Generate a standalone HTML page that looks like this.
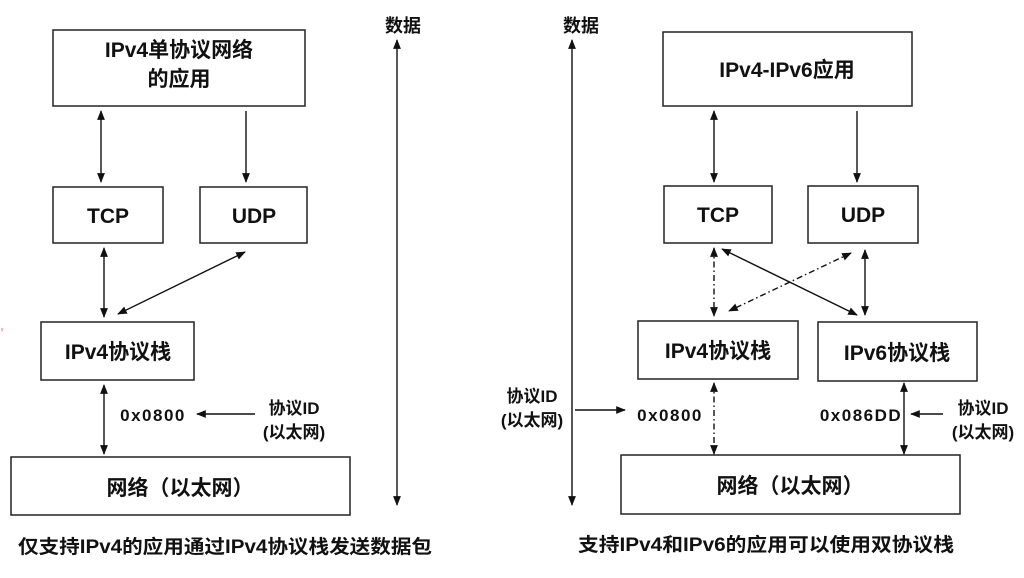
<!DOCTYPE html>
<html><head><meta charset="utf-8"><style>
html,body{margin:0;padding:0;background:#fff;}
body{width:1024px;height:573px;overflow:hidden;}
svg text{font-family:"Liberation Sans","Noto Sans CJK SC",sans-serif;fill:#111;}
</style></head><body>
<svg width="1024" height="573" viewBox="0 0 1024 573" xmlns="http://www.w3.org/2000/svg">
<defs>
<marker id="a" viewBox="0 0 10 10" refX="9" refY="5" markerWidth="7" markerHeight="7" orient="auto-start-reverse"><path d="M0,1 L10,5 L0,9 z" fill="#111"/></marker>
</defs>
<g fill="none" stroke="#222" stroke-width="1.5">
<rect x="53" y="30" width="252" height="76"/>
<rect x="53" y="187" width="110" height="56"/>
<rect x="200" y="187" width="107" height="56"/>
<rect x="41" y="322" width="153" height="58"/>
<rect x="11" y="457" width="339" height="58"/>
<rect x="663" y="32" width="249" height="74"/>
<rect x="664" y="186" width="108" height="57"/>
<rect x="808" y="186" width="110" height="57"/>
<rect x="638" y="321" width="160" height="58"/>
<rect x="818" y="322" width="159" height="59"/>
<rect x="621" y="455" width="339" height="59"/>
</g>
<g stroke="#111" stroke-width="1.4" fill="none">
<line x1="101" y1="111" x2="101" y2="182" marker-start="url(#a)" marker-end="url(#a)"/>
<line x1="246" y1="111" x2="246" y2="182" marker-end="url(#a)"/>
<line x1="104" y1="248" x2="104" y2="317" marker-start="url(#a)" marker-end="url(#a)"/>
<line x1="245" y1="252" x2="118" y2="314" marker-start="url(#a)" marker-end="url(#a)"/>
<line x1="104" y1="385" x2="104" y2="454" marker-start="url(#a)" marker-end="url(#a)"/>
<line x1="255" y1="414" x2="197" y2="414" marker-end="url(#a)"/>
<line x1="397" y1="40" x2="397" y2="505" marker-start="url(#a)" marker-end="url(#a)"/>
<line x1="572" y1="40" x2="572" y2="505" marker-start="url(#a)" marker-end="url(#a)"/>
<line x1="714" y1="111" x2="714" y2="182" marker-start="url(#a)" marker-end="url(#a)"/>
<line x1="857" y1="111" x2="857" y2="182" marker-end="url(#a)"/>
<line x1="714" y1="248" x2="714" y2="316" stroke-dasharray="6,3,1.5,3" marker-start="url(#a)" marker-end="url(#a)"/>
<line x1="851" y1="253" x2="729" y2="311" stroke-dasharray="6,3,1.5,3" marker-start="url(#a)" marker-end="url(#a)"/>
<line x1="722" y1="249" x2="857" y2="315" marker-start="url(#a)" marker-end="url(#a)"/>
<line x1="865" y1="250" x2="865" y2="315" marker-start="url(#a)" marker-end="url(#a)"/>
<line x1="714" y1="383" x2="714" y2="454" stroke-dasharray="6,3,1.5,3" marker-start="url(#a)" marker-end="url(#a)"/>
<line x1="575" y1="410" x2="625" y2="410" marker-end="url(#a)"/>
<line x1="904" y1="383" x2="904" y2="454" marker-start="url(#a)" marker-end="url(#a)"/>
<line x1="943" y1="414" x2="911" y2="414" marker-end="url(#a)"/>
</g>
<g font-size="21" font-weight="bold" text-anchor="middle">
<text x="179" y="57">IPv4单协议网络</text>
<text x="179" y="86">的应用</text>
<text x="108" y="223">TCP</text>
<text x="254" y="223">UDP</text>
<text x="118" y="359">IPv4协议栈</text>
<text x="180" y="495">网络（以太网）</text>
<text x="787" y="77">IPv4-IPv6应用</text>
<text x="718" y="222">TCP</text>
<text x="863" y="222">UDP</text>
<text x="718" y="358">IPv4协议栈</text>
<text x="897" y="360">IPv6协议栈</text>
<text x="790" y="493">网络（以太网）</text>
</g>
<g font-size="17" font-weight="bold" text-anchor="middle">
<text x="153" y="421" letter-spacing="1.5">0x0800</text>
<text x="294" y="414">协议ID</text>
<text x="294" y="438">(以太网)</text>
<text x="670" y="421" letter-spacing="1.5">0x0800</text>
<text x="532" y="402">协议ID</text>
<text x="532" y="426">(以太网)</text>
<text x="861" y="421" letter-spacing="1.5">0x086DD</text>
<text x="983" y="414">协议ID</text>
<text x="983" y="438">(以太网)</text>
<text x="403" y="32" font-size="18">数据</text>
<text x="581" y="32" font-size="18">数据</text>
</g>
<g font-size="19" font-weight="bold" text-anchor="middle">
<text x="225" y="553" textLength="414" lengthAdjust="spacingAndGlyphs">仅支持IPv4的应用通过IPv4协议栈发送数据包</text>
<text x="766" y="551" textLength="376" lengthAdjust="spacingAndGlyphs">支持IPv4和IPv6的应用可以使用双协议栈</text>
</g>
<text x="1" y="330" font-size="7" style="fill:#e33">ᵧ</text>
</svg>
</body></html>
